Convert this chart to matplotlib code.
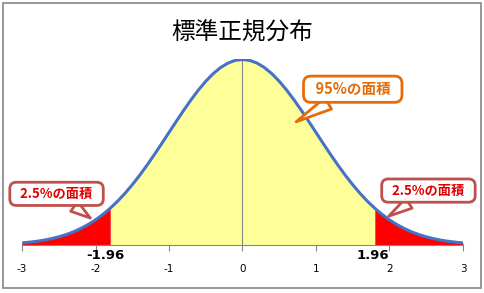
import numpy as np
import matplotlib
matplotlib.use('Agg')
from matplotlib import pyplot as plt
from matplotlib.patches import Rectangle

plt.rcParams['font.family'] = ['Noto Sans CJK JP', 'DejaVu Sans']

# данные: плотность стандартного нормального распределения, шаг 0.1 (0 .. 3)
half_x = [0.0, 0.1, 0.2, 0.3, 0.4, 0.5, 0.6, 0.7, 0.8, 0.9, 1.0,
          1.1, 1.2, 1.3, 1.4, 1.5, 1.6, 1.7, 1.8, 1.9, 2.0,
          2.1, 2.2, 2.3, 2.4, 2.5, 2.6, 2.7, 2.8, 2.9, 3.0]
half_y = [0.3989, 0.3970, 0.3910, 0.3814, 0.3683, 0.3521, 0.3332, 0.3123,
          0.2897, 0.2661, 0.2420, 0.2179, 0.1942, 0.1714, 0.1497, 0.1295,
          0.1109, 0.0940, 0.0790, 0.0656, 0.0540, 0.0440, 0.0355, 0.0283,
          0.0224, 0.0175, 0.0136, 0.0104, 0.0079, 0.0060, 0.0044]
x_ticks = [-3, -2, -1, 0, 1, 2, 3]
cut = 1.8
cut_labels = ['-1.96', '1.96']
title = '標準正規分布'
center_label = '95%の面積'
tail_label = '2.5%の面積'

x = np.array([-v for v in half_x[:0:-1]] + half_x)
y = np.array(half_y[:0:-1] + half_y)

fig = plt.figure(figsize=(4.85, 2.93), dpi=100)
ax = fig.add_axes([22/485, 48/293, 441/485, 186/293])

# заливки
ax.fill_between(x, 0, y, where=np.abs(x) <= cut + 1e-9, color='#FFFF99', lw=0)
ax.fill_between(x, 0, y, where=x <= -cut + 1e-9, color='#FF0000', lw=0)
ax.fill_between(x, 0, y, where=x >= cut - 1e-9, color='#FF0000', lw=0)
ax.plot(x, y, color='#4472C4', lw=2.2, zorder=5)

ax.set_xlim(-3, 3)
ax.set_ylim(0, 0.4)
ax.spines['top'].set_visible(False)
ax.spines['right'].set_visible(False)
ax.spines['left'].set_position(('data', 0))
ax.spines['left'].set_color('#868686')
ax.spines['bottom'].set_color('#868686')
ax.set_yticks([])
ax.set_xticks(x_ticks)
ax.set_xticklabels([str(t) for t in x_ticks], fontsize=7.5, family='DejaVu Sans')
ax.tick_params(axis='x', length=4, color='#868686', pad=10)
ax.patch.set_visible(False)

# подписи границ
ax.text(-cut - 0.07, -0.008, cut_labels[0], ha='center', va='top',
        fontsize=9.5, fontweight='bold', family='DejaVu Sans')
ax.text(cut - 0.03, -0.008, cut_labels[1], ha='center', va='top',
        fontsize=9.5, fontweight='bold', family='DejaVu Sans')

ax.set_title(title, fontsize=17, pad=14)


def callout(text, xy, xytext, edge, color, size):
    # пробелы по краям дают более широкую рамку
    ax.annotate('  ' + text + '  ', xy=xy, xytext=xytext, ha='center', va='center',
                fontsize=size, fontweight='bold', color=color, zorder=10,
                bbox=dict(boxstyle='round,pad=0.35,rounding_size=0.5',
                          fc='white', ec=edge, lw=2.0),
                arrowprops=dict(arrowstyle='wedge,tail_width=0.9,shrink_factor=0.5',
                                fc='white', ec=edge, lw=2.0, shrinkA=0, shrinkB=0))


callout(center_label, (0.73, 0.265), (1.50, 0.335), '#E46C0A', '#E46C0A', 10.5)
callout(tail_label, (-2.07, 0.058), (-2.53, 0.110), '#C0504D', '#E00000', 9.5)
callout(tail_label, (1.99, 0.062), (2.53, 0.117), '#C0504D', '#E00000', 9.5)

# рамка вокруг рисунка
fig.patches.append(Rectangle((3/485, 5/293), 478/485, 285/293,
                             transform=fig.transFigure, fill=False,
                             ec='#868686', lw=1.2))

fig.savefig('out.png', dpi=100)
